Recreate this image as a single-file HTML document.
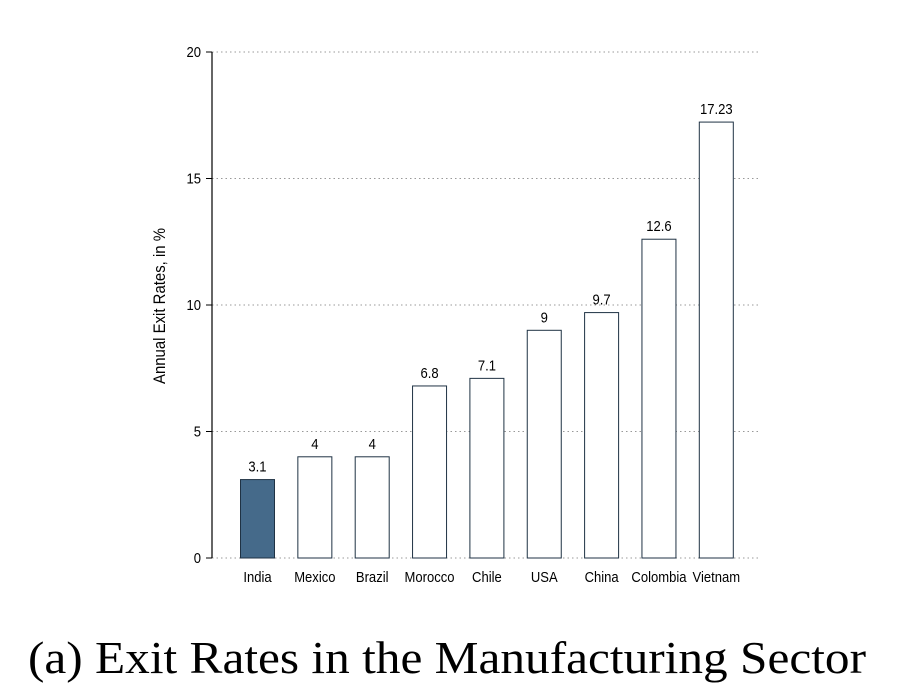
<!DOCTYPE html>
<html><head><meta charset="utf-8"><style>
body{margin:0;background:#fff;width:898px;height:692px;overflow:hidden}
svg text{font-family:"Liberation Sans",sans-serif;fill:#000}
</style></head><body>
<svg id="chart" width="898" height="692">
<g id="grid"></g>
<g id="bars"></g>
<g id="labels"></g>
<g id="xlabels"></g>
<g id="yaxis"></g>
<text transform="translate(165,306) rotate(-90)" text-anchor="middle" font-size="17" textLength="156" lengthAdjust="spacingAndGlyphs">Annual Exit Rates, in %</text>
<text x="28" y="673" font-size="46" textLength="838" lengthAdjust="spacingAndGlyphs" style="font-family:'Liberation Serif',serif">(a) Exit Rates in the Manufacturing Sector</text>
</svg>
<script>
const categories=["India","Mexico","Brazil","Morocco","Chile","USA","China","Colombia","Vietnam"];
const values=[3.1,4,4,6.8,7.1,9,9.7,12.6,17.23];
const valueLabels=["3.1","4","4","6.8","7.1","9","9.7","12.6","17.23"];
const yTicks=[0,5,10,15,20];
const NS="http://www.w3.org/2000/svg";
const y=v=>558-v*25.3;
const x=i=>240+i*57.35;
const bw=34;
function mk(tag,attrs,parent,txt){const e=document.createElementNS(NS,tag);for(const k in attrs)e.setAttribute(k,attrs[k]);if(txt!==undefined)e.textContent=txt;document.getElementById(parent).appendChild(e);return e;}
yTicks.forEach(t=>{
  const g=mk('line',{x1:212,x2:760,y1:y(t),y2:y(t),stroke:'#999','stroke-dasharray':'1.5 3','stroke-width':1},'grid');
  
  
  const tk=mk('line',{x1:206,x2:212,y1:y(t),y2:y(t),stroke:'#000'},'yaxis');
  
  
  const tl=mk('text',{transform:`translate(201,${y(t)+5}) scale(0.87,1)`,'text-anchor':'end','font-size':15},'yaxis',String(t));
  
  
});
const ax=mk('line',{x1:212,x2:212,y1:y(20),y2:y(0),stroke:'#000','stroke-width':1.2},'yaxis');


categories.forEach((c,i)=>{
  const r=mk('rect',{x:x(i)+0.5,y:y(values[i]),width:bw,height:y(0)-y(values[i]),fill:i===0?'#456a8a':'#fff',stroke:'#1f3244','stroke-width':1},'bars');
  
  
  const l=mk('text',{transform:`translate(${x(i)+bw/2+0.5},${y(values[i])-8}) scale(0.87,1)`,'text-anchor':'middle','font-size':15},'labels',valueLabels[i]);
  
  
  const xl=mk('text',{transform:`translate(${x(i)+bw/2+0.5},582) scale(0.87,1)`,'text-anchor':'middle','font-size':15},'xlabels',c);
  
  
});
</script>
</body></html>
